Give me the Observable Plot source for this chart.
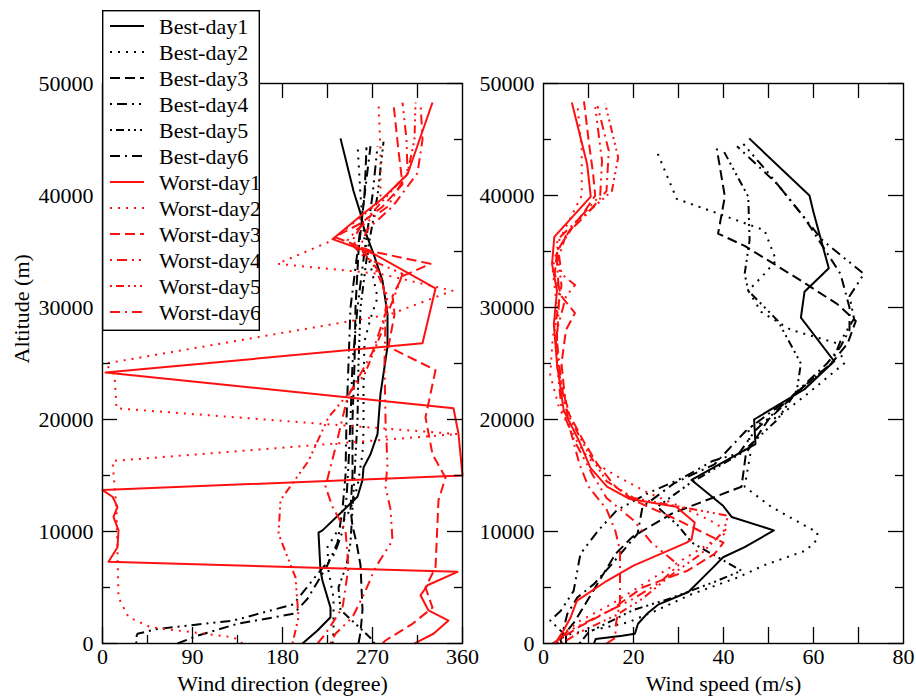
<!DOCTYPE html>
<html><head><meta charset="utf-8">
<script src="https://cdn.jsdelivr.net/npm/d3@7"></script>
<script src="https://cdn.jsdelivr.net/npm/@observablehq/plot@0.6"></script>
<style>
body{margin:0;background:#fff;}
#wrap{position:relative;width:916px;height:698px;font-family:"Liberation Serif",serif;}
#wrap svg text{font-family:"Liberation Serif",serif;}
#left{position:absolute;left:0;top:0;}
#right{position:absolute;left:470px;top:0;}
#legend{position:absolute;left:102px;top:10px;}
</style></head><body>
<div id="wrap"><div id="left"></div><div id="right"></div><div id="legend"></div></div>
<script>
// ---- series names ----
const seriesNames = ["Best-day1","Best-day2","Best-day3","Best-day4","Best-day5","Best-day6",
                     "Worst-day1","Worst-day2","Worst-day3","Worst-day4","Worst-day5","Worst-day6"];

// ---- tick values ----
const altTicks = [0,10000,20000,30000,40000,50000];
const altMinor = [5000,15000,25000,35000,45000];
const dirTicks = [0,90,180,270,360];
const dirMinor = [45,135,225,315];
const dirTop = [45,90,135,180,225,270,315];
const spdTicks = [0,20,40,60,80];
const spdAll = [10,20,30,40,50,60,70];

// ---- Wind direction (degree): [altitude m, direction] ----
const dirB1 = [[0,200],[1160,215],[2350,228],[3200,228],[5600,220],[6500,218],[9900,216],[10100,220],[11900,241],[13100,255],[14600,260],[15700,261],[16900,268],[18700,275],[22300,278],[23500,280],[26500,285],[29400,285],[32400,280],[34800,271],[37200,261],[38400,258],[40400,251],[45100,238]];
const dirB2 = [[0,230],[1200,231],[4100,231],[6500,226],[8600,225],[10500,238],[12000,248],[14000,255],[17000,260],[19000,261],[23000,261],[27000,262],[29000,268],[30900,275],[33000,270],[36000,262],[40000,258],[44600,255]];
const dirB3 = [[0,256],[1000,258],[3000,260],[5000,259],[7000,258],[9000,254],[10500,250],[12000,248],[15000,250],[20000,250],[25000,252],[30000,253],[35000,256],[40000,262],[44300,264]];
const dirB4 = [[0,34],[420,33],[870,35],[1300,55],[2050,131],[3500,191],[6200,215],[8000,232],[10000,240],[13000,244],[16000,246],[20000,248],[25000,250],[30000,255],[35000,262],[40000,270],[44400,275]];
const dirB5 = [[0,272],[500,268],[1000,262],[2000,250],[3000,238],[5000,236],[7000,244],[9000,248],[12000,250],[15000,252],[20000,255],[25000,256],[30000,258],[35000,265],[40000,275],[44800,281]];
const dirB6 = [[0,75],[700,95],[1760,135],[2650,191],[4000,205],[5500,215],[7000,225],[9000,235],[12000,240],[15000,243],[20000,244],[25000,246],[30000,248],[35000,255],[40000,262],[44400,268]];
const dirW1 = [[0,312],[270,318],[870,331],[2050,346],[2950,326],[4300,318],[5200,325],[6400,355],[7300,6],[8600,15],[10100,16],[11300,11],[12200,15],[13100,10],[13700,0],[15000,360],[18700,356],[21000,351],[24200,3],[26800,320],[31700,333],[34800,271],[36100,230],[38400,261],[39800,281],[41900,305],[48300,330]];
const dirW2 = [[0,140],[560,131],[1000,90],[1460,48],[2350,26],[4100,16],[8000,15],[12000,14],[16300,10],[18700,355],[21000,14],[24000,12],[25000,3],[29400,288],[31500,350],[33000,278],[33900,175],[36000,230],[39300,275],[40000,278],[44000,278],[48300,276]];
const dirW3 = [[0,280],[270,283],[1760,310],[3200,330],[5000,323],[6800,333],[12800,336],[14800,343],[16900,330],[20200,323],[24400,333],[26500,286],[29400,292],[31000,290],[32800,300],[33900,328],[35000,270],[36300,232],[37500,258],[39000,280],[41000,300],[44000,296],[48200,291]];
const dirW4 = [[0,228],[870,233],[2350,250],[4500,262],[6800,273],[9200,290],[12000,288],[14000,283],[16000,285],[20000,283],[25000,282],[29000,283],[31000,292],[33000,300],[34500,262],[36000,245],[37000,255],[39000,285],[42000,305],[45000,304],[48300,300]];
const dirW5 = [[0,190],[2350,196],[5900,193],[9800,176],[12800,178],[16300,206],[20200,226],[24000,262],[28000,280],[31000,285],[34000,270],[36000,250],[37500,260],[39500,280],[42000,305],[45000,312],[48300,313]];
const dirW6 = [[0,215],[870,223],[3200,240],[6800,246],[10100,243],[12200,230],[14000,223],[17500,233],[22000,245],[26000,270],[30000,285],[33000,278],[35500,258],[37000,265],[39000,290],[42000,315],[45000,320],[48300,318]];

// ---- Wind speed (m/s): [altitude m, speed] ----
const spdB1 = [[0,11.2],[400,11.6],[700,17.5],[870,20.3],[1760,21],[2650,23],[3500,25.6],[4600,32.2],[6800,37.7],[7700,39.9],[8600,44.7],[10100,51.2],[11300,41.8],[12300,39.9],[14600,32.9],[17800,47.1],[20000,46.8],[22700,58],[25200,64.6],[29100,57.2],[31400,58],[33500,63.4],[38500,60],[40000,59.1],[45100,45.7]];
const spdB2 = [[0,3],[400,3.5],[900,6.4],[1300,12.3],[1900,18.9],[2900,24.8],[4400,32.9],[5900,43.2],[7000,49.1],[8300,58.3],[9200,60.6],[9900,60.9],[12200,50.6],[14000,44.7],[17000,46],[19300,45.5],[20200,52],[22300,58.7],[25000,66.8],[26800,65.3],[28000,55],[29600,48.4],[31500,45.5],[33000,49.1],[34200,51.7],[36900,49.1],[38500,38],[39700,29.6],[43900,25.2]];
const spdB3 = [[0,5],[1000,5],[2000,7],[4000,10],[6000,13],[8000,16],[9500,19.7],[11600,28.5],[14000,44],[17000,45],[20000,50],[23000,58],[25000,64],[26800,67.6],[28800,69.4],[30300,65.3],[32400,57.2],[35500,44.7],[36600,38.8],[39900,40.3],[44200,38.5]];
const spdB4 = [[0,5],[600,5.2],[2050,1.5],[2900,3.8],[4700,6.7],[8000,8.2],[10100,12.2],[11900,16.3],[13500,23.6],[14800,31],[16300,37.6],[17000,43.5],[19000,47],[22000,55],[25000,64],[27000,66],[29000,69],[31000,68],[33000,71.2],[36000,62],[39000,56],[42000,50],[44600,44.4]];
const spdB5 = [[0,8],[1000,10],[2000,15],[3000,20],[4000,28],[5500,38],[6500,44],[9000,33],[10500,30],[12200,25.3],[14300,32.5],[17000,44],[20000,52],[22600,56.3],[25000,57.2],[28800,52.1],[31500,45.5],[33000,44.7],[36000,45.8],[39900,45.5],[44000,40]];
const spdB6 = [[0,4],[300,3.8],[2650,5.3],[4100,7.5],[5300,11.2],[7000,15],[9800,20.9],[12200,22],[14300,29],[16000,38],[19000,45],[22000,55],[25000,63],[26500,66],[28000,68],[30000,68],[33000,66],[35500,62],[38000,58],[41000,52],[44400,43]];
const spdW1 = [[0,3],[270,3],[1200,4.5],[2300,6],[3800,7.4],[5600,14.1],[6960,20],[9000,31.8],[9300,32.9],[10800,33.6],[12200,29.5],[12900,19.2],[14000,14.1],[15700,10.4],[18000,8],[20800,4.5],[25000,3],[28500,2.3],[31500,3],[33900,1.9],[36300,2.4],[39900,10.5],[42800,9.7],[48300,6.3]];
const spdW2 = [[0,3],[800,4],[2000,8],[3500,15],[5000,21],[6500,27],[8000,33],[9200,38],[10000,41],[11000,37],[12300,30],[13500,23],[15000,16],[16500,10],[18000,7.5],[21000,3.5],[24000,1.5],[27000,2],[30000,3],[33500,2],[36000,3.5],[38000,6],[40000,8.5],[44000,8.5],[48300,7.5]];
const spdW3 = [[0,2],[500,4],[1500,8],[3000,15],[5000,22],[6500,32],[8000,38],[9000,40],[10000,35],[11000,30],[12800,20],[14000,16],[16000,12],[18000,9],[21000,5],[25000,4],[28000,5],[29500,7],[31000,4],[33000,2.5],[35000,3],[37000,6],[38500,9],[40000,11.5],[42000,11],[45000,10],[48400,9]];
const spdW4 = [[0,3],[1000,5],[2000,10],[4000,20],[5500,26],[7000,30],[9000,24],[11000,20],[13000,14],[15000,11],[18000,7],[21000,4],[25000,3],[28000,3],[31000,5],[32000,7],[33000,4],[36000,3],[38000,8],[40000,12.6],[43100,13],[47900,11.5]];
const spdW5 = [[0,4],[1000,8],[2500,16],[4000,22],[6000,28],[8000,35],[10000,40],[11400,41],[13000,20],[14500,14],[17000,10],[20000,6],[24000,3.5],[28000,2.5],[32000,4],[35000,3],[37500,7],[40400,15.2],[43400,16.6],[48200,13.7]];
const spdW6 = [[0,14],[500,16],[1500,16],[3800,17],[6000,17],[8300,17],[10000,16],[12000,14],[14000,10],[16000,8],[19000,6],[23000,4],[27000,3],[31000,3.5],[34000,3],[36500,5],[38500,10],[40400,14],[44000,14.5],[48000,12]];

const dirSeries = [dirB1,dirB2,dirB3,dirB4,dirB5,dirB6,dirW1,dirW2,dirW3,dirW4,dirW5,dirW6];
const spdSeries = [spdB1,spdB2,spdB3,spdB4,spdB5,spdB6,spdW1,spdW2,spdW3,spdW4,spdW5,spdW6];

// ---- styles ----
const BLACK = "#000", RED = "#ff1010";
const colors = seriesNames.map(n => n.startsWith("Best") ? BLACK : RED);
const dashPatterns = ["none","2,6","10,5","2,5,10,5,2,5","2,4,8,4,2,4,2,4","10,5,2,5"];
const dashes = seriesNames.map((n,i) => dashPatterns[i % 6]);
const FONT = "Liberation Serif";

const H = 698, MT = 83, MB = 55, FH = H - MT - MB;

function panel({width, ml, mr, xDomain, series, xMajor, xMinor, xTop, xLabels, xLabel, yLabel}) {
  const FW = width - ml - mr;
  const marks = [];
  series.forEach((s, i) => marks.push(Plot.line(s, {
    x: d => d[1], y: d => d[0], stroke: colors[i], strokeWidth: 2,
    strokeDasharray: dashes[i], strokeLinecap: "butt", strokeLinejoin: "round"
  })));
  const tk = {stroke: "black", strokeWidth: 1.3};
  marks.push(Plot.tickX(xMajor, {x: d => d, insetTop: FH - 16, ...tk}));
  marks.push(Plot.tickX(xMinor, {x: d => d, insetTop: FH - 8, ...tk}));
  marks.push(Plot.tickX(xTop, {x: d => d, insetBottom: FH - 15, ...tk}));
  marks.push(Plot.tickY(altTicks, {y: d => d, insetRight: FW - 15, ...tk}));
  marks.push(Plot.tickY(altMinor, {y: d => d, insetRight: FW - 8, ...tk}));
  marks.push(Plot.tickY(altTicks, {y: d => d, insetLeft: FW - 15, ...tk}));
  marks.push(Plot.tickY(altMinor, {y: d => d, insetLeft: FW - 8, ...tk}));
  marks.push(Plot.frame({stroke: "black", strokeWidth: 1.4}));
  marks.push(Plot.axisX({ticks: xLabels, tickSize: 0, tickPadding: 5, label: null, fontFamily: FONT}));
  marks.push(Plot.axisY({ticks: altTicks, tickSize: 0, tickPadding: 9, tickFormat: d3.format("d"), label: null, fontFamily: FONT}));
  marks.push(Plot.text([xLabel], {text: d => d, frameAnchor: "bottom", dy: 47, fill: "black", fontFamily: FONT, fontSize: 22}));
  if (yLabel) marks.push(Plot.text([yLabel], {text: d => d, frameAnchor: "left", rotate: -90, dx: -81, fill: "black", fontFamily: FONT, fontSize: 22}));
  return Plot.plot({
    width, height: H, marginTop: MT, marginBottom: MB, marginLeft: ml, marginRight: mr,
    x: {domain: xDomain}, y: {domain: [0, 50000]},
    style: {fontFamily: FONT, fontSize: "22px", color: "black", background: "transparent", overflow: "visible"},
    marks
  });
}

document.getElementById("left").appendChild(panel({
  width: 470, ml: 102, mr: 8, xDomain: [0, 360], series: dirSeries,
  xMajor: dirTicks, xMinor: dirMinor, xTop: dirTop, xLabels: dirTicks,
  xLabel: "Wind direction (degree)", yLabel: "Altitude (m)"
}));
document.getElementById("right").appendChild(panel({
  width: 446, ml: 73, mr: 13, xDomain: [0, 80], series: spdSeries,
  xMajor: spdAll, xMinor: [], xTop: spdAll, xLabels: spdTicks,
  xLabel: "Wind speed (m/s)", yLabel: null
}));

// ---- legend ----
const LW = 158, LH = 321;
const lsvg = d3.select("#legend").append("svg").attr("width", LW).attr("height", LH);
lsvg.append("rect").attr("x", 0.7).attr("y", 0.7).attr("width", LW - 1.4).attr("height", LH - 1.4)
  .attr("fill", "white").attr("stroke", "black").attr("stroke-width", 1.4);
seriesNames.forEach((n, i) => {
  const y = 16 + 26 * i;
  lsvg.append("line").attr("x1", 8).attr("x2", 42).attr("y1", y).attr("y2", y)
    .attr("stroke", colors[i]).attr("stroke-width", 2).attr("stroke-dasharray", dashes[i]);
  lsvg.append("text").attr("x", 57).attr("y", y).attr("dy", "0.35em")
    .attr("font-family", FONT).attr("font-size", 22).text(n);
});
</script>
</body></html>
